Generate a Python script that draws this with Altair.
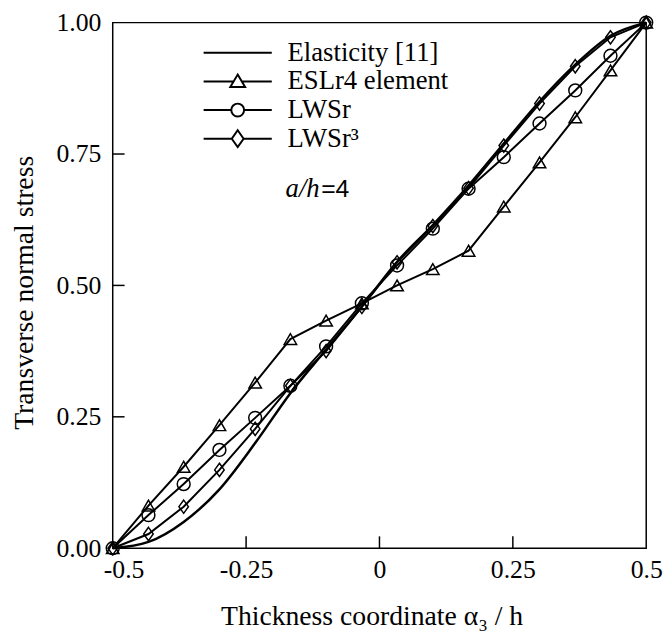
import altair as alt
import pandas as pd

# ---- data ----
x_pos = [-0.5, -0.433, -0.367, -0.3, -0.233, -0.167, -0.1, -0.033,
         0.033, 0.1, 0.167, 0.233, 0.3, 0.367, 0.433, 0.5]
elasticity = [0.0, 0.012, 0.05, 0.112, 0.2, 0.295, 0.378, 0.46,
              0.545, 0.615, 0.69, 0.77, 0.85, 0.92, 0.975, 1.0]
eslr4 = [0.0, 0.081, 0.155, 0.234, 0.315, 0.398, 0.433, 0.466,
         0.500, 0.531, 0.566, 0.650, 0.734, 0.820, 0.909, 1.0]
lwsr = [0.0, 0.063, 0.122, 0.187, 0.248, 0.309, 0.384, 0.466,
        0.538, 0.608, 0.684, 0.744, 0.808, 0.871, 0.937, 1.0]
lwsr3 = [0.0, 0.027, 0.079, 0.149, 0.227, 0.309, 0.375, 0.459,
         0.544, 0.613, 0.685, 0.766, 0.846, 0.917, 0.972, 1.0]
series_names = ["Elasticity [11]", "ESLr4 element", "LWSr", "LWSr³"]
x_tick_values = [-0.5, -0.25, 0, 0.25, 0.5]
y_tick_values = [0, 0.25, 0.5, 0.75, 1.0]
x_inner_ticks = [-0.25, 0, 0.25]
y_inner_ticks = [0.25, 0.5, 0.75]
note_a_h = "a/h"
note_val = "=4"

rows = []
for name, vals in zip(series_names, [elasticity, eslr4, lwsr, lwsr3]):
    for xv, yv in zip(x_pos, vals):
        rows.append({"series": name, "x": xv, "y": yv})
df = pd.DataFrame(rows)

W, H = 540, 532
SERIF = "Liberation Serif"

xscale = alt.Scale(domain=[-0.5, 0.5], nice=False, zero=False)
yscale = alt.Scale(domain=[0, 1], nice=False, zero=False)

x_enc = alt.X("x:Q", scale=xscale, axis=alt.Axis(
    values=x_tick_values, labelExpr="toString(datum.value)",
    domain=False, ticks=False, grid=False,
    labelFont=SERIF, labelFontSize=26, labelColor="black", labelPadding=9,
    labelFlush=False,
    labelOffset={"condition": {"test": "datum.value == -0.5", "value": 11}, "value": 0},
    title="Thickness coordinate α₃ / h", titleFont=SERIF, titleFontSize=28,
    titleFontWeight="normal", titleColor="black",
    titleX=262, titleY=77, titleBaseline="alphabetic"))
y_enc = alt.Y("y:Q", scale=yscale, axis=alt.Axis(
    values=y_tick_values, format=".2f",
    domain=False, ticks=False, grid=False,
    labelFont=SERIF, labelFontSize=26, labelColor="black", labelPadding=12,
    labelFlush=False,
    title="Transverse normal stress", titleFont=SERIF, titleFontSize=28,
    titleFontWeight="normal", titleColor="black",
    titleX=-81, titleY=273, titleBaseline="alphabetic", titleAngle=-90))

base = alt.Chart(df)

elastic_line = base.transform_filter(
    alt.datum.series == series_names[0]
).mark_line(color="black", strokeWidth=2.5, interpolate="monotone").encode(
    x=x_enc, y=y_enc)

fe_lines = base.transform_filter(
    alt.datum.series != series_names[0]
).mark_line(color="black", strokeWidth=2).encode(
    x=x_enc, y=y_enc, detail="series:N")

diamond = "M0,-1L0.72,0L0,1L-0.72,0Z"
points = base.transform_filter(
    alt.datum.series != series_names[0]
).mark_point(filled=False, color="black", strokeWidth=1.5, opacity=1).encode(
    x=x_enc, y=y_enc,
    shape=alt.Shape("series:N", scale=alt.Scale(
        domain=series_names, range=["circle", "triangle-up", "circle", diamond]),
        legend=None),
    size=alt.Size("series:N", scale=alt.Scale(
        domain=series_names, range=[150, 180, 160, 235]), legend=None),
)

legend_paths = [
    "M-1,0H5",
    "M-1,0H1.645M2.355,0H5M2,-0.6L2.652,0.5L1.348,0.5Z",
    "M-1,0H1.435M2.565,0H5M1.435,0A0.565,0.565 0 1,1 2.565,0A0.565,0.565 0 1,1 1.435,0Z",
    "M-1,0H1.48M2.52,0H5M2,-0.74L2.52,0L2,0.74L1.48,0Z",
]
legend_layer = base.transform_filter("false").transform_calculate(
    label="datum.series"
).mark_point(filled=False, color="black", opacity=1).encode(
    x=x_enc, y=y_enc,
    shape=alt.Shape("label:N", scale=alt.Scale(domain=series_names, range=legend_paths),
                    legend=alt.Legend(
                        title=None, orient="none", legendX=90, legendY=17,
                        padding=0, symbolSize=529, symbolStrokeWidth=2,
                        symbolStrokeColor="black", symbolOffset=0,
                        labelFont=SERIF, labelFontSize=27, labelColor="black",
                        labelOffset=60, labelLimit=400, rowPadding=1)),
)

xt = alt.Chart(pd.DataFrame({"t": x_inner_ticks})).mark_rule(
    color="black", strokeWidth=1.5).encode(
    x=alt.X("t:Q", scale=xscale), y=alt.value(H), y2=alt.value(H - 12))
yt = alt.Chart(pd.DataFrame({"t": y_inner_ticks})).mark_rule(
    color="black", strokeWidth=1.5).encode(
    y=alt.Y("t:Q", scale=yscale), x=alt.value(0), x2=alt.value(12))

note_df = pd.DataFrame({"x": [-0.176], "y": [0.684], "a": [note_a_h], "v": [note_val]})
note1 = alt.Chart(note_df).mark_text(
    font=SERIF, fontSize=27, fontStyle="italic", align="left", baseline="middle",
    color="black").encode(x=alt.X("x:Q", scale=xscale), y=alt.Y("y:Q", scale=yscale), text="a:N")
note2 = alt.Chart(note_df).mark_text(
    font="Liberation Sans", fontSize=25, align="left", baseline="middle", dx=36,
    color="black").encode(x=alt.X("x:Q", scale=xscale), y=alt.Y("y:Q", scale=yscale), text="v:N")

chart = alt.layer(
    elastic_line, fe_lines, points, legend_layer, xt, yt, note1, note2
).resolve_scale(shape="independent", size="independent").properties(
    width=W, height=H,
    autosize=alt.AutoSizeParams(type="none"),
    padding={"left": 106, "top": 11, "right": 18, "bottom": 80},
    background="white",
).configure_view(stroke="black", strokeWidth=1.5)

chart.save("out.html", embed_options={"renderer": "svg", "actions": False})
